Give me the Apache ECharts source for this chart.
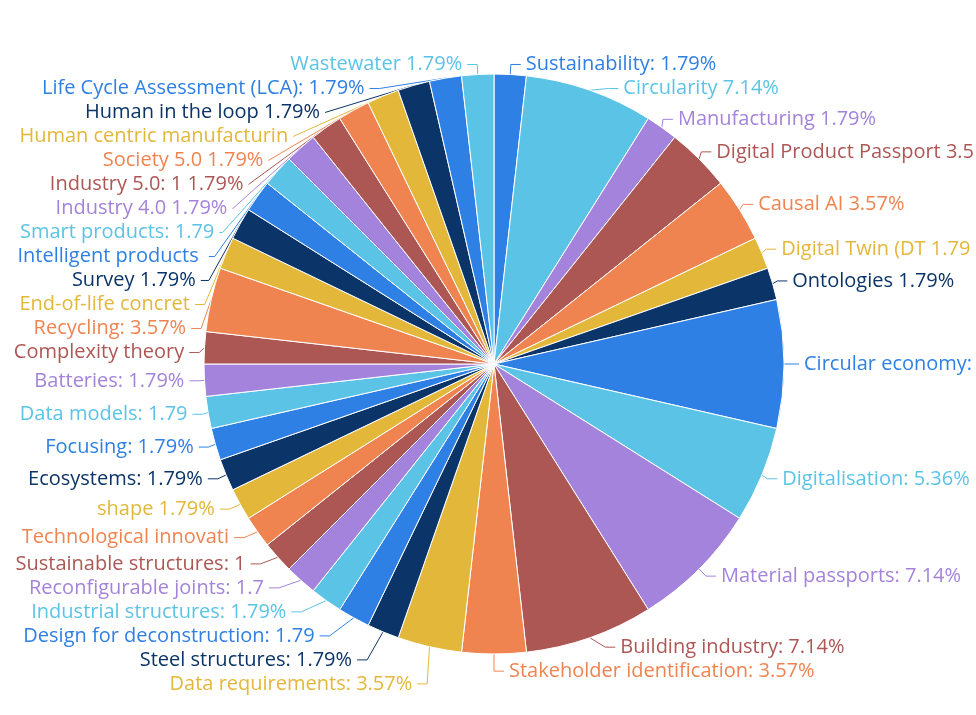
<!DOCTYPE html>
<html>
<head>
<meta charset="utf-8">
<script src="https://cdn.jsdelivr.net/npm/echarts@6/dist/echarts.min.js"></script>
<style>
html,body{margin:0;padding:0;background:#fff;overflow:hidden;}
#main{width:976px;height:715px;}
</style>
</head>
<body>
<div id="main"></div>
<script>
// topics, clockwise from 12 o'clock
let topics = [
	"Sustainability:", "Circularity", "Manufacturing", "Digital Product Passport", "Causal AI",
	"Digital Twin (DT", "Ontologies", "Circular economy:", "Digitalisation:", "Material passports:",
	"Building industry:", "Stakeholder identification:", "Data requirements:", "Steel structures:",
	"Design for deconstruction:", "Industrial structures:", "Reconfigurable joints:",
	"Sustainable structures:", "Technological innovation:", "shape", "Ecosystems:", "Focusing:",
	"Data models:", "Batteries:", "Complexity theory:", "Recycling:", "End-of-life concrete:",
	"Survey", "Intelligent products", "Smart products:", "Industry 4.0", "Industry 5.0: 1",
	"Society 5.0", "Human centric manufacturing:", "Human in the loop",
	"Life Cycle Assessment (LCA):", "Wastewater"
];
let counts = [
	1, 4, 1, 2, 2,
	1, 1, 4, 3, 4,
	4, 2, 2, 1,
	1, 1, 1,
	1, 1, 1, 1, 1,
	1, 1, 1, 2, 1,
	1, 1, 1, 1, 1,
	1, 1, 1,
	1, 1
];
let palette = ["#2f80e4", "#5bc4e6", "#a383db", "#ad5755", "#ef8450", "#e3b73a", "#0b3468"];

let total = counts.reduce((a, b) => a + b, 0);
let myChart = echarts.init(document.getElementById("main"));
let pieData = topics.map((name, i) => ({ name: name, value: counts[i] }));

let opt = {
	color: palette,
	series: [
		{
			type: 'pie',
			left: 0,
			top: 0,
			width: 992,
			height: 715,
			center: [494, 364],
			radius: [0, 290],
			startAngle: 90,
			clockwise: true,
			data: pieData,
			itemStyle: {
				borderColor: "#fff",
				borderWidth: 1
			},
			label: {
				show: true,
				color: "inherit",
				fontFamily: "Open Sans",
				fontSize: 20,
				lineHeight: 22,
				ellipsis: "",
				formatter: function (p) {
					return p.name + " " + (p.value / total * 100).toFixed(2) + "%";
				}
			},
			labelLine: {
				show: true,
				length: 10,
				length2: 10
			}
		}
	]
};
myChart.setOption(opt);
</script>
</body>
</html>
